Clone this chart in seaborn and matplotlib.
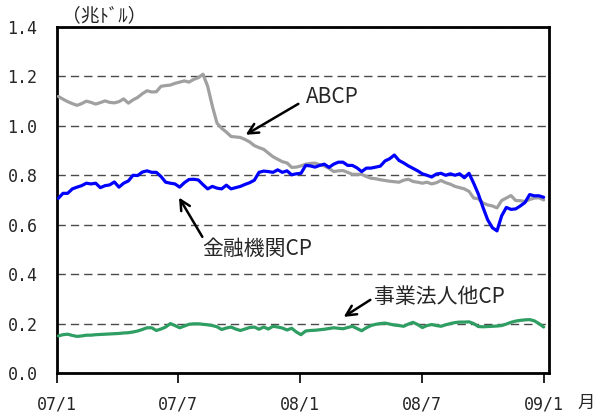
import matplotlib
matplotlib.use("Agg")
import matplotlib.pyplot as plt
import matplotlib.dates as mdates
import numpy as np
import pandas as pd
import seaborn as sns

# Weekly outstanding commercial paper, trillions of dollars
abcp = [
    1.119, 1.108, 1.098, 1.090, 1.083, 1.090, 1.100, 1.095, 1.088, 1.094,
    1.101, 1.095, 1.093, 1.098, 1.109, 1.092, 1.105, 1.115, 1.130, 1.142,
    1.137, 1.138, 1.160, 1.163, 1.165, 1.172, 1.177, 1.182, 1.177, 1.188,
    1.195, 1.209, 1.160, 1.080, 1.011, 0.990, 0.975, 0.957, 0.955, 0.953,
    0.945, 0.935, 0.920, 0.912, 0.905, 0.890, 0.875, 0.865, 0.855, 0.850,
    0.832, 0.833, 0.838, 0.845, 0.848, 0.849, 0.843, 0.838, 0.828, 0.815,
    0.818, 0.819, 0.812, 0.804, 0.804, 0.804, 0.795, 0.788, 0.786, 0.782,
    0.779, 0.776, 0.774, 0.772, 0.780, 0.784, 0.775, 0.772, 0.768, 0.772,
    0.765, 0.770, 0.779, 0.770, 0.764, 0.755, 0.750, 0.745, 0.735, 0.708,
    0.705, 0.688, 0.680, 0.676, 0.668, 0.698, 0.708, 0.718, 0.698, 0.697,
    0.694, 0.702, 0.708, 0.709, 0.700,
]
financial_cp = [
    0.707, 0.727, 0.727, 0.745, 0.752, 0.758, 0.768, 0.765, 0.768, 0.750,
    0.758, 0.761, 0.773, 0.752, 0.768, 0.777, 0.800, 0.799, 0.813, 0.818,
    0.812, 0.812, 0.795, 0.772, 0.768, 0.765, 0.752, 0.770, 0.783, 0.784,
    0.781, 0.762, 0.745, 0.755, 0.748, 0.745, 0.760, 0.745, 0.750, 0.755,
    0.763, 0.770, 0.780, 0.812, 0.817, 0.815, 0.812, 0.822, 0.812, 0.818,
    0.802, 0.806, 0.808, 0.840, 0.838, 0.833, 0.840, 0.845, 0.832, 0.845,
    0.853, 0.853, 0.840, 0.840, 0.830, 0.815, 0.829, 0.829, 0.833, 0.837,
    0.858, 0.867, 0.882, 0.860, 0.850, 0.838, 0.828, 0.818, 0.806, 0.800,
    0.793, 0.805, 0.808, 0.800, 0.806, 0.800, 0.806, 0.790, 0.808, 0.768,
    0.724, 0.670, 0.620, 0.588, 0.575, 0.636, 0.670, 0.662, 0.664, 0.676,
    0.690, 0.722, 0.717, 0.717, 0.711,
]
nonfinancial_cp = [
    0.150, 0.155, 0.157, 0.152, 0.148, 0.150, 0.153, 0.153, 0.155, 0.156,
    0.157, 0.158, 0.159, 0.160, 0.162, 0.163, 0.166, 0.170, 0.176, 0.183,
    0.183, 0.172, 0.178, 0.186, 0.200, 0.192, 0.183, 0.190, 0.197, 0.199,
    0.199, 0.197, 0.195, 0.192, 0.187, 0.176, 0.182, 0.186, 0.178, 0.172,
    0.178, 0.184, 0.186, 0.177, 0.186, 0.178, 0.189, 0.186, 0.182, 0.174,
    0.181, 0.166, 0.155, 0.170, 0.172, 0.173, 0.175, 0.177, 0.180, 0.183,
    0.181, 0.179, 0.184, 0.189, 0.180, 0.171, 0.183, 0.192, 0.197, 0.200,
    0.202, 0.198, 0.194, 0.192, 0.189, 0.198, 0.205, 0.196, 0.184, 0.192,
    0.196, 0.192, 0.189, 0.195, 0.200, 0.204, 0.206, 0.206, 0.207, 0.200,
    0.188, 0.187, 0.188, 0.189, 0.190, 0.192, 0.198, 0.205, 0.210, 0.213,
    0.215, 0.216, 0.211, 0.200, 0.186,
]
weeks = pd.date_range("2007-01-03", periods=len(abcp), freq="7D")

tick_dates = ["2007-01-01", "2007-07-01", "2008-01-01", "2008-07-01", "2009-01-01"]
tick_labels = ["07/1", "07/7", "08/1", "08/7", "09/1"]
y_ticks = [0.0, 0.2, 0.4, 0.6, 0.8, 1.0, 1.2, 1.4]

series_names = ["ABCP", "金融機関CP", "事業法人他CP"]
series_colors = ["#A0A0A0", "#0000FF", "#2E9E62"]

sns.set_style("white")
plt.rcParams["font.family"] = ["Noto Sans CJK JP", "DejaVu Sans"]

fig = plt.figure(figsize=(5.96, 4.17), dpi=100)
ax = fig.add_axes([57 / 596, 1 - 373 / 417, (549 - 57) / 596, (373 - 27) / 417])

for name, vals, col in zip(series_names, [abcp, financial_cp, nonfinancial_cp], series_colors):
    df = pd.DataFrame({"date": weeks, "value": vals})
    sns.lineplot(data=df, x="date", y="value", ax=ax, color=col, linewidth=2.3, zorder=3)

ax.set_xlim(pd.Timestamp("2007-01-01"), pd.Timestamp("2009-01-08"))
ax.set_ylim(0, 1.4)
ax.set_xlabel("")
ax.set_ylabel("")

ax.set_xticks([mdates.date2num(pd.Timestamp(d)) for d in tick_dates])
ax.set_xticklabels(tick_labels, family="DejaVu Sans Mono", fontsize=12)
ax.set_yticks(y_ticks)
ax.set_yticklabels([f"{v:.1f}" for v in y_ticks], family="DejaVu Sans Mono", fontsize=12)
ax.tick_params(axis="x", direction="out", length=7, width=1.2, color="black", pad=9, bottom=True)
ax.tick_params(axis="y", length=0, pad=14, left=False)

ax.yaxis.grid(True, color="#4a4a4a", linewidth=1.0, linestyle=(0, (6, 3.6)))
ax.xaxis.grid(False)
ax.set_axisbelow(True)
for s in ax.spines.values():
    s.set_visible(True)
    s.set_color("black")
    s.set_linewidth(2.0)

arrow = dict(arrowstyle="->", color="black", lw=1.8, mutation_scale=18, shrinkA=0, shrinkB=0)
d = pd.Timestamp

ax.annotate("", xy=(d("2007-10-11"), 0.964), xytext=(d("2007-12-29"), 1.089), arrowprops=arrow)
ax.text(d("2008-01-10"), 1.117, "ABCP", fontsize=15, ha="left", va="center")

ax.annotate("", xy=(d("2007-07-03"), 0.710), xytext=(d("2007-08-07"), 0.551), arrowprops=arrow)
ax.text(d("2007-08-07"), 0.504, "金融機関CP", fontsize=15, ha="left", va="center")

ax.annotate("", xy=(d("2008-03-06"), 0.227), xytext=(d("2008-04-15"), 0.296), arrowprops=arrow)
ax.text(d("2008-04-21"), 0.308, "事業法人他CP", fontsize=15, ha="left", va="center")

fig.text(104 / 596, 1 - 16 / 417, "（兆ﾄﾞﾙ）", fontsize=13.5, ha="center", va="center")
fig.text(586 / 596, 1 - 403 / 417, "月", fontsize=12.5, ha="center", va="center")

fig.savefig("out.png", dpi=100)
